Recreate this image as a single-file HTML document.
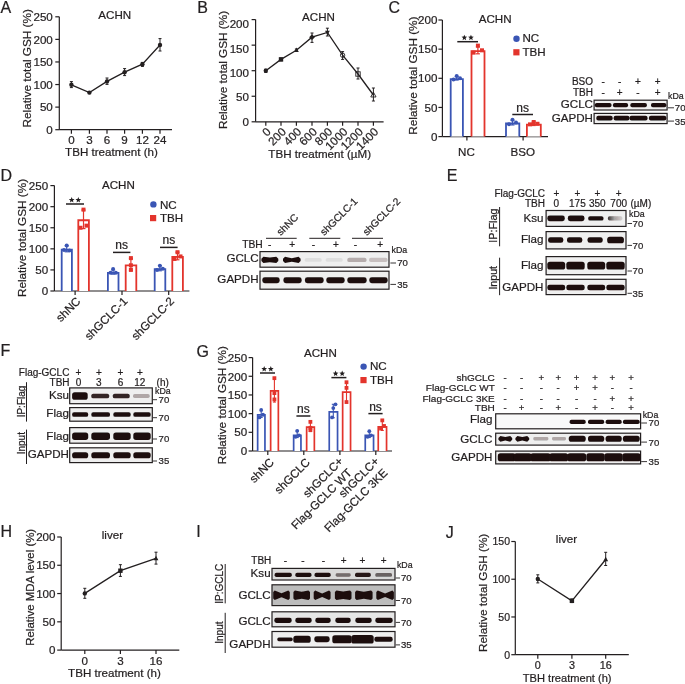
<!DOCTYPE html>
<html><head><meta charset="utf-8"><style>
html,body{margin:0;padding:0;background:#fff;}
svg{display:block;will-change:transform;filter:blur(0.3px);}
text{font-family:"Liberation Sans", sans-serif;stroke:#231f20;stroke-width:0.22px;}
</style></head><body>
<svg width="685" height="684" viewBox="0 0 685 684">
<defs><linearGradient id="fadeR" x1="0" x2="1" y1="0" y2="0"><stop offset="0" stop-color="#1c1111" stop-opacity="0.85"/><stop offset="0.45" stop-color="#1c1111" stop-opacity="0.35"/><stop offset="1" stop-color="#1c1111" stop-opacity="0.12"/></linearGradient><filter id="bl" x="-30%" y="-80%" width="160%" height="260%"><feGaussianBlur stdDeviation="0.55"/></filter></defs>
<rect width="685" height="684" fill="#fff"/>
<text x="0.60" y="12.70" font-size="16" text-anchor="start" fill="#231f20">A</text>
<text x="197.20" y="12.60" font-size="16" text-anchor="start" fill="#231f20">B</text>
<text x="388.60" y="12.60" font-size="16" text-anchor="start" fill="#231f20">C</text>
<text x="0.60" y="181.00" font-size="16" text-anchor="start" fill="#231f20">D</text>
<text x="446.80" y="181.00" font-size="16" text-anchor="start" fill="#231f20">E</text>
<text x="0.60" y="356.00" font-size="16" text-anchor="start" fill="#231f20">F</text>
<text x="196.60" y="356.50" font-size="16" text-anchor="start" fill="#231f20">G</text>
<text x="0.60" y="537.00" font-size="16" text-anchor="start" fill="#231f20">H</text>
<text x="196.20" y="537.00" font-size="16" text-anchor="start" fill="#231f20">I</text>
<text x="445.80" y="537.50" font-size="16" text-anchor="start" fill="#231f20">J</text>
<line x1="59.30" y1="16.80" x2="59.30" y2="129.70" stroke="#231f20" stroke-width="1.2" stroke-linecap="butt"/>
<line x1="55.30" y1="129.70" x2="59.30" y2="129.70" stroke="#231f20" stroke-width="1.2" stroke-linecap="butt"/>
<text x="52.80" y="133.88" font-size="11.6" text-anchor="end" fill="#231f20">0</text>
<line x1="55.30" y1="107.12" x2="59.30" y2="107.12" stroke="#231f20" stroke-width="1.2" stroke-linecap="butt"/>
<text x="52.80" y="111.30" font-size="11.6" text-anchor="end" fill="#231f20">50</text>
<line x1="55.30" y1="84.54" x2="59.30" y2="84.54" stroke="#231f20" stroke-width="1.2" stroke-linecap="butt"/>
<text x="52.80" y="88.72" font-size="11.6" text-anchor="end" fill="#231f20">100</text>
<line x1="55.30" y1="61.96" x2="59.30" y2="61.96" stroke="#231f20" stroke-width="1.2" stroke-linecap="butt"/>
<text x="52.80" y="66.14" font-size="11.6" text-anchor="end" fill="#231f20">150</text>
<line x1="55.30" y1="39.38" x2="59.30" y2="39.38" stroke="#231f20" stroke-width="1.2" stroke-linecap="butt"/>
<text x="52.80" y="43.56" font-size="11.6" text-anchor="end" fill="#231f20">200</text>
<line x1="55.30" y1="16.80" x2="59.30" y2="16.80" stroke="#231f20" stroke-width="1.2" stroke-linecap="butt"/>
<text x="52.80" y="20.98" font-size="11.6" text-anchor="end" fill="#231f20">250</text>
<line x1="59.30" y1="129.70" x2="172.00" y2="129.70" stroke="#231f20" stroke-width="1.2" stroke-linecap="butt"/>
<line x1="71.40" y1="129.70" x2="71.40" y2="133.70" stroke="#231f20" stroke-width="1.2" stroke-linecap="butt"/>
<line x1="89.40" y1="129.70" x2="89.40" y2="133.70" stroke="#231f20" stroke-width="1.2" stroke-linecap="butt"/>
<line x1="107.00" y1="129.70" x2="107.00" y2="133.70" stroke="#231f20" stroke-width="1.2" stroke-linecap="butt"/>
<line x1="124.60" y1="129.70" x2="124.60" y2="133.70" stroke="#231f20" stroke-width="1.2" stroke-linecap="butt"/>
<line x1="142.40" y1="129.70" x2="142.40" y2="133.70" stroke="#231f20" stroke-width="1.2" stroke-linecap="butt"/>
<line x1="160.00" y1="129.70" x2="160.00" y2="133.70" stroke="#231f20" stroke-width="1.2" stroke-linecap="butt"/>
<text x="71.40" y="144.40" font-size="11.6" text-anchor="middle" fill="#231f20">0</text>
<text x="89.40" y="144.40" font-size="11.6" text-anchor="middle" fill="#231f20">3</text>
<text x="107.00" y="144.40" font-size="11.6" text-anchor="middle" fill="#231f20">6</text>
<text x="124.60" y="144.40" font-size="11.6" text-anchor="middle" fill="#231f20">9</text>
<text x="142.40" y="144.40" font-size="11.6" text-anchor="middle" fill="#231f20">12</text>
<text x="160.00" y="144.40" font-size="11.6" text-anchor="middle" fill="#231f20">24</text>
<text x="111.50" y="156.00" font-size="11.6" text-anchor="middle" fill="#231f20">TBH treatment (h)</text>
<text x="30.63" y="68.30" font-size="11.75" text-anchor="middle" fill="#231f20" transform="rotate(-90 30.63 68.30)">Relative total GSH (%)</text>
<text x="114.80" y="19.40" font-size="11.6" text-anchor="middle" fill="#231f20">ACHN</text>
<polyline points="71.40,84.80 89.40,92.60 107.00,81.40 124.60,72.20 142.40,64.20 160.00,45.00" fill="none" stroke="#231f20" stroke-width="1.3" stroke-linejoin="miter"/>
<line x1="71.40" y1="81.60" x2="71.40" y2="87.60" stroke="#231f20" stroke-width="1.0" stroke-linecap="butt"/>
<line x1="69.90" y1="81.60" x2="72.90" y2="81.60" stroke="#231f20" stroke-width="1.0" stroke-linecap="butt"/>
<line x1="69.90" y1="87.60" x2="72.90" y2="87.60" stroke="#231f20" stroke-width="1.0" stroke-linecap="butt"/>
<circle cx="71.40" cy="84.80" r="2.2" fill="#231f20"/>
<line x1="89.40" y1="91.60" x2="89.40" y2="93.60" stroke="#231f20" stroke-width="1.0" stroke-linecap="butt"/>
<line x1="87.90" y1="91.60" x2="90.90" y2="91.60" stroke="#231f20" stroke-width="1.0" stroke-linecap="butt"/>
<line x1="87.90" y1="93.60" x2="90.90" y2="93.60" stroke="#231f20" stroke-width="1.0" stroke-linecap="butt"/>
<circle cx="89.40" cy="92.60" r="2.2" fill="#231f20"/>
<line x1="107.00" y1="78.00" x2="107.00" y2="84.40" stroke="#231f20" stroke-width="1.0" stroke-linecap="butt"/>
<line x1="105.50" y1="78.00" x2="108.50" y2="78.00" stroke="#231f20" stroke-width="1.0" stroke-linecap="butt"/>
<line x1="105.50" y1="84.40" x2="108.50" y2="84.40" stroke="#231f20" stroke-width="1.0" stroke-linecap="butt"/>
<circle cx="107.00" cy="81.40" r="2.2" fill="#231f20"/>
<line x1="124.60" y1="68.60" x2="124.60" y2="75.60" stroke="#231f20" stroke-width="1.0" stroke-linecap="butt"/>
<line x1="123.10" y1="68.60" x2="126.10" y2="68.60" stroke="#231f20" stroke-width="1.0" stroke-linecap="butt"/>
<line x1="123.10" y1="75.60" x2="126.10" y2="75.60" stroke="#231f20" stroke-width="1.0" stroke-linecap="butt"/>
<circle cx="124.60" cy="72.20" r="2.2" fill="#231f20"/>
<line x1="142.40" y1="62.40" x2="142.40" y2="66.40" stroke="#231f20" stroke-width="1.0" stroke-linecap="butt"/>
<line x1="140.90" y1="62.40" x2="143.90" y2="62.40" stroke="#231f20" stroke-width="1.0" stroke-linecap="butt"/>
<line x1="140.90" y1="66.40" x2="143.90" y2="66.40" stroke="#231f20" stroke-width="1.0" stroke-linecap="butt"/>
<circle cx="142.40" cy="64.20" r="2.2" fill="#231f20"/>
<line x1="160.00" y1="38.60" x2="160.00" y2="51.00" stroke="#231f20" stroke-width="1.0" stroke-linecap="butt"/>
<line x1="158.50" y1="38.60" x2="161.50" y2="38.60" stroke="#231f20" stroke-width="1.0" stroke-linecap="butt"/>
<line x1="158.50" y1="51.00" x2="161.50" y2="51.00" stroke="#231f20" stroke-width="1.0" stroke-linecap="butt"/>
<circle cx="160.00" cy="45.00" r="2.2" fill="#231f20"/>
<line x1="255.60" y1="19.60" x2="255.60" y2="121.80" stroke="#231f20" stroke-width="1.2" stroke-linecap="butt"/>
<line x1="251.60" y1="121.80" x2="255.60" y2="121.80" stroke="#231f20" stroke-width="1.2" stroke-linecap="butt"/>
<text x="249.00" y="126.48" font-size="11.6" text-anchor="end" fill="#231f20">0</text>
<line x1="251.60" y1="96.25" x2="255.60" y2="96.25" stroke="#231f20" stroke-width="1.2" stroke-linecap="butt"/>
<text x="249.00" y="101.18" font-size="11.6" text-anchor="end" fill="#231f20">50</text>
<line x1="251.60" y1="70.70" x2="255.60" y2="70.70" stroke="#231f20" stroke-width="1.2" stroke-linecap="butt"/>
<text x="249.00" y="76.88" font-size="11.6" text-anchor="end" fill="#231f20">100</text>
<line x1="251.60" y1="45.15" x2="255.60" y2="45.15" stroke="#231f20" stroke-width="1.2" stroke-linecap="butt"/>
<text x="249.00" y="52.98" font-size="11.6" text-anchor="end" fill="#231f20">150</text>
<line x1="251.60" y1="19.60" x2="255.60" y2="19.60" stroke="#231f20" stroke-width="1.2" stroke-linecap="butt"/>
<text x="249.00" y="27.68" font-size="11.6" text-anchor="end" fill="#231f20">200</text>
<line x1="255.60" y1="121.80" x2="383.60" y2="121.80" stroke="#231f20" stroke-width="1.2" stroke-linecap="butt"/>
<line x1="265.80" y1="121.80" x2="265.80" y2="125.80" stroke="#231f20" stroke-width="1.2" stroke-linecap="butt"/>
<line x1="281.00" y1="121.80" x2="281.00" y2="125.80" stroke="#231f20" stroke-width="1.2" stroke-linecap="butt"/>
<line x1="296.40" y1="121.80" x2="296.40" y2="125.80" stroke="#231f20" stroke-width="1.2" stroke-linecap="butt"/>
<line x1="312.00" y1="121.80" x2="312.00" y2="125.80" stroke="#231f20" stroke-width="1.2" stroke-linecap="butt"/>
<line x1="327.40" y1="121.80" x2="327.40" y2="125.80" stroke="#231f20" stroke-width="1.2" stroke-linecap="butt"/>
<line x1="342.60" y1="121.80" x2="342.60" y2="125.80" stroke="#231f20" stroke-width="1.2" stroke-linecap="butt"/>
<line x1="358.00" y1="121.80" x2="358.00" y2="125.80" stroke="#231f20" stroke-width="1.2" stroke-linecap="butt"/>
<line x1="373.40" y1="121.80" x2="373.40" y2="125.80" stroke="#231f20" stroke-width="1.2" stroke-linecap="butt"/>
<text x="271.50" y="132.50" font-size="11.6" text-anchor="end" fill="#231f20" transform="rotate(-45 271.50 132.50)">0</text>
<text x="286.70" y="132.50" font-size="11.6" text-anchor="end" fill="#231f20" transform="rotate(-45 286.70 132.50)">200</text>
<text x="302.10" y="132.50" font-size="11.6" text-anchor="end" fill="#231f20" transform="rotate(-45 302.10 132.50)">400</text>
<text x="317.70" y="132.50" font-size="11.6" text-anchor="end" fill="#231f20" transform="rotate(-45 317.70 132.50)">600</text>
<text x="333.10" y="132.50" font-size="11.6" text-anchor="end" fill="#231f20" transform="rotate(-45 333.10 132.50)">800</text>
<text x="348.30" y="132.50" font-size="11.6" text-anchor="end" fill="#231f20" transform="rotate(-45 348.30 132.50)">1000</text>
<text x="363.70" y="132.50" font-size="11.6" text-anchor="end" fill="#231f20" transform="rotate(-45 363.70 132.50)">1200</text>
<text x="379.10" y="132.50" font-size="11.6" text-anchor="end" fill="#231f20" transform="rotate(-45 379.10 132.50)">1400</text>
<text x="319.70" y="158.00" font-size="11.6" text-anchor="middle" fill="#231f20">TBH treatment (µM)</text>
<text x="227.23" y="70.00" font-size="11.75" text-anchor="middle" fill="#231f20" transform="rotate(-90 227.23 70.00)">Relative total GSH (%)</text>
<text x="318.50" y="21.00" font-size="11.6" text-anchor="middle" fill="#231f20">ACHN</text>
<polyline points="265.80,70.80 281.00,59.40 296.40,50.20 312.00,37.20 327.40,32.40 342.60,55.20 358.00,74.00 373.40,95.00" fill="none" stroke="#231f20" stroke-width="1.3" stroke-linejoin="miter"/>
<line x1="265.80" y1="69.20" x2="265.80" y2="72.40" stroke="#231f20" stroke-width="1.0" stroke-linecap="butt"/>
<line x1="264.30" y1="69.20" x2="267.30" y2="69.20" stroke="#231f20" stroke-width="1.0" stroke-linecap="butt"/>
<line x1="264.30" y1="72.40" x2="267.30" y2="72.40" stroke="#231f20" stroke-width="1.0" stroke-linecap="butt"/>
<circle cx="265.80" cy="70.80" r="2.2" fill="#231f20"/>
<line x1="281.00" y1="58.00" x2="281.00" y2="60.80" stroke="#231f20" stroke-width="1.0" stroke-linecap="butt"/>
<line x1="279.50" y1="58.00" x2="282.50" y2="58.00" stroke="#231f20" stroke-width="1.0" stroke-linecap="butt"/>
<line x1="279.50" y1="60.80" x2="282.50" y2="60.80" stroke="#231f20" stroke-width="1.0" stroke-linecap="butt"/>
<rect x="278.80" y="57.20" width="4.40" height="4.40" fill="#231f20"/>
<line x1="296.40" y1="49.00" x2="296.40" y2="51.40" stroke="#231f20" stroke-width="1.0" stroke-linecap="butt"/>
<line x1="294.90" y1="49.00" x2="297.90" y2="49.00" stroke="#231f20" stroke-width="1.0" stroke-linecap="butt"/>
<line x1="294.90" y1="51.40" x2="297.90" y2="51.40" stroke="#231f20" stroke-width="1.0" stroke-linecap="butt"/>
<polygon points="296.40,47.56 298.82,51.96 293.98,51.96" fill="#231f20"/>
<line x1="312.00" y1="33.00" x2="312.00" y2="42.40" stroke="#231f20" stroke-width="1.0" stroke-linecap="butt"/>
<line x1="310.50" y1="33.00" x2="313.50" y2="33.00" stroke="#231f20" stroke-width="1.0" stroke-linecap="butt"/>
<line x1="310.50" y1="42.40" x2="313.50" y2="42.40" stroke="#231f20" stroke-width="1.0" stroke-linecap="butt"/>
<polygon points="312.00,34.34 314.86,37.20 312.00,40.06 309.14,37.20" fill="#231f20"/>
<line x1="327.40" y1="28.20" x2="327.40" y2="36.00" stroke="#231f20" stroke-width="1.0" stroke-linecap="butt"/>
<line x1="325.90" y1="28.20" x2="328.90" y2="28.20" stroke="#231f20" stroke-width="1.0" stroke-linecap="butt"/>
<line x1="325.90" y1="36.00" x2="328.90" y2="36.00" stroke="#231f20" stroke-width="1.0" stroke-linecap="butt"/>
<polygon points="327.40,35.04 329.82,30.64 324.98,30.64" fill="#231f20"/>
<line x1="342.60" y1="51.60" x2="342.60" y2="59.40" stroke="#231f20" stroke-width="1.0" stroke-linecap="butt"/>
<line x1="341.10" y1="51.60" x2="344.10" y2="51.60" stroke="#231f20" stroke-width="1.0" stroke-linecap="butt"/>
<line x1="341.10" y1="59.40" x2="344.10" y2="59.40" stroke="#231f20" stroke-width="1.0" stroke-linecap="butt"/>
<circle cx="342.60" cy="55.20" r="2.2" fill="none" stroke="#231f20" stroke-width="0.9"/>
<line x1="358.00" y1="68.00" x2="358.00" y2="79.00" stroke="#231f20" stroke-width="1.0" stroke-linecap="butt"/>
<line x1="356.50" y1="68.00" x2="359.50" y2="68.00" stroke="#231f20" stroke-width="1.0" stroke-linecap="butt"/>
<line x1="356.50" y1="79.00" x2="359.50" y2="79.00" stroke="#231f20" stroke-width="1.0" stroke-linecap="butt"/>
<rect x="355.80" y="71.80" width="4.40" height="4.40" fill="none" stroke="#231f20" stroke-width="0.9"/>
<line x1="373.40" y1="88.00" x2="373.40" y2="101.00" stroke="#231f20" stroke-width="1.0" stroke-linecap="butt"/>
<line x1="371.90" y1="88.00" x2="374.90" y2="88.00" stroke="#231f20" stroke-width="1.0" stroke-linecap="butt"/>
<line x1="371.90" y1="101.00" x2="374.90" y2="101.00" stroke="#231f20" stroke-width="1.0" stroke-linecap="butt"/>
<polygon points="373.40,92.14 376.04,96.98 370.76,96.98" fill="none" stroke="#231f20" stroke-width="0.9"/>
<line x1="442.40" y1="20.00" x2="442.40" y2="136.60" stroke="#231f20" stroke-width="1.2" stroke-linecap="butt"/>
<line x1="438.40" y1="136.60" x2="442.40" y2="136.60" stroke="#231f20" stroke-width="1.2" stroke-linecap="butt"/>
<text x="437.40" y="140.78" font-size="11.6" text-anchor="end" fill="#231f20">0</text>
<line x1="438.40" y1="107.45" x2="442.40" y2="107.45" stroke="#231f20" stroke-width="1.2" stroke-linecap="butt"/>
<text x="437.40" y="111.63" font-size="11.6" text-anchor="end" fill="#231f20">50</text>
<line x1="438.40" y1="78.30" x2="442.40" y2="78.30" stroke="#231f20" stroke-width="1.2" stroke-linecap="butt"/>
<text x="437.40" y="82.48" font-size="11.6" text-anchor="end" fill="#231f20">100</text>
<line x1="438.40" y1="49.15" x2="442.40" y2="49.15" stroke="#231f20" stroke-width="1.2" stroke-linecap="butt"/>
<text x="437.40" y="53.33" font-size="11.6" text-anchor="end" fill="#231f20">150</text>
<line x1="438.40" y1="20.00" x2="442.40" y2="20.00" stroke="#231f20" stroke-width="1.2" stroke-linecap="butt"/>
<text x="437.40" y="24.18" font-size="11.6" text-anchor="end" fill="#231f20">200</text>
<line x1="442.40" y1="136.60" x2="548.00" y2="136.60" stroke="#231f20" stroke-width="1.2" stroke-linecap="butt"/>
<line x1="466.90" y1="136.60" x2="466.90" y2="140.60" stroke="#231f20" stroke-width="1.2" stroke-linecap="butt"/>
<line x1="523.10" y1="136.60" x2="523.10" y2="140.60" stroke="#231f20" stroke-width="1.2" stroke-linecap="butt"/>
<text x="466.40" y="156.00" font-size="11.6" text-anchor="middle" fill="#231f20">NC</text>
<text x="522.70" y="155.60" font-size="11.6" text-anchor="middle" fill="#231f20">BSO</text>
<text x="416.83" y="75.60" font-size="11.75" text-anchor="middle" fill="#231f20" transform="rotate(-90 416.83 75.60)">Relative total GSH (%)</text>
<text x="495.20" y="22.60" font-size="11.6" text-anchor="middle" fill="#231f20">ACHN</text>
<path d="M450.70,136.60 V79.20 H462.90 V136.60" fill="white" stroke="#3a55b4" stroke-width="1.8"/>
<path d="M471.50,136.60 V51.22 H484.50 V136.60" fill="white" stroke="#e3342c" stroke-width="1.8"/>
<path d="M506.00,136.60 V123.51 H519.30 V136.60" fill="white" stroke="#3a55b4" stroke-width="1.8"/>
<path d="M526.90,136.60 V124.67 H540.80 V136.60" fill="white" stroke="#e3342c" stroke-width="1.8"/>
<line x1="456.70" y1="76.55" x2="456.70" y2="80.05" stroke="#3a55b4" stroke-width="1.2" stroke-linecap="butt"/>
<line x1="454.70" y1="76.55" x2="458.70" y2="76.55" stroke="#3a55b4" stroke-width="1.2" stroke-linecap="butt"/>
<line x1="454.70" y1="80.05" x2="458.70" y2="80.05" stroke="#3a55b4" stroke-width="1.2" stroke-linecap="butt"/>
<circle cx="453.50" cy="79.47" r="2.0" fill="#3a55b4"/>
<circle cx="456.70" cy="75.97" r="2.0" fill="#3a55b4"/>
<circle cx="460.00" cy="78.30" r="2.0" fill="#3a55b4"/>
<line x1="477.90" y1="46.82" x2="477.90" y2="53.81" stroke="#e3342c" stroke-width="1.2" stroke-linecap="butt"/>
<line x1="475.90" y1="46.82" x2="479.90" y2="46.82" stroke="#e3342c" stroke-width="1.2" stroke-linecap="butt"/>
<line x1="475.90" y1="53.81" x2="479.90" y2="53.81" stroke="#e3342c" stroke-width="1.2" stroke-linecap="butt"/>
<rect x="471.60" y="50.65" width="4.00" height="4.00" fill="#e3342c"/>
<rect x="475.90" y="43.65" width="4.00" height="4.00" fill="#e3342c"/>
<rect x="480.00" y="48.32" width="4.00" height="4.00" fill="#e3342c"/>
<line x1="512.50" y1="120.28" x2="512.50" y2="124.94" stroke="#3a55b4" stroke-width="1.2" stroke-linecap="butt"/>
<line x1="510.50" y1="120.28" x2="514.50" y2="120.28" stroke="#3a55b4" stroke-width="1.2" stroke-linecap="butt"/>
<line x1="510.50" y1="124.94" x2="514.50" y2="124.94" stroke="#3a55b4" stroke-width="1.2" stroke-linecap="butt"/>
<circle cx="509.00" cy="124.36" r="2.0" fill="#3a55b4"/>
<circle cx="512.50" cy="119.69" r="2.0" fill="#3a55b4"/>
<circle cx="516.00" cy="122.61" r="2.0" fill="#3a55b4"/>
<line x1="533.70" y1="122.02" x2="533.70" y2="125.52" stroke="#e3342c" stroke-width="1.2" stroke-linecap="butt"/>
<line x1="531.70" y1="122.02" x2="535.70" y2="122.02" stroke="#e3342c" stroke-width="1.2" stroke-linecap="butt"/>
<line x1="531.70" y1="125.52" x2="535.70" y2="125.52" stroke="#e3342c" stroke-width="1.2" stroke-linecap="butt"/>
<rect x="528.00" y="122.36" width="4.00" height="4.00" fill="#e3342c"/>
<rect x="531.70" y="120.02" width="4.00" height="4.00" fill="#e3342c"/>
<rect x="535.50" y="121.77" width="4.00" height="4.00" fill="#e3342c"/>
<line x1="457.30" y1="41.70" x2="478.00" y2="41.70" stroke="#231f20" stroke-width="1.5" stroke-linecap="butt"/>
<polygon points="464.35,34.70 465.14,36.61 467.20,36.77 465.63,38.12 466.11,40.13 464.35,39.05 462.59,40.13 463.07,38.12 461.50,36.77 463.56,36.61" fill="#231f20"/>
<polygon points="470.95,34.70 471.74,36.61 473.80,36.77 472.23,38.12 472.71,40.13 470.95,39.05 469.19,40.13 469.67,38.12 468.10,36.77 470.16,36.61" fill="#231f20"/>
<line x1="512.30" y1="114.50" x2="533.00" y2="114.50" stroke="#231f20" stroke-width="1.5" stroke-linecap="butt"/>
<text x="522.65" y="111.50" font-size="12" text-anchor="middle" fill="#231f20">ns</text>
<circle cx="516.50" cy="38.80" r="3.2" fill="#3a55b4"/>
<rect x="513.30" y="49.20" width="6.20" height="6.20" fill="#e3342c"/>
<text x="522.50" y="41.80" font-size="11.6" text-anchor="start" fill="#231f20">NC</text>
<text x="522.50" y="55.80" font-size="11.6" text-anchor="start" fill="#231f20">TBH</text>
<text x="593.00" y="85.00" font-size="10" text-anchor="end" fill="#231f20">BSO</text>
<text x="593.00" y="95.70" font-size="10" text-anchor="end" fill="#231f20">TBH</text>
<text x="593.00" y="108.00" font-size="11.6" text-anchor="end" fill="#231f20">GCLC</text>
<text x="593.00" y="121.80" font-size="11.6" text-anchor="end" fill="#231f20">GAPDH</text>
<text x="603.20" y="85.00" font-size="10" text-anchor="middle" fill="#231f20">-</text>
<text x="603.20" y="95.70" font-size="10" text-anchor="middle" fill="#231f20">-</text>
<text x="619.70" y="85.00" font-size="10" text-anchor="middle" fill="#231f20">-</text>
<text x="619.70" y="95.70" font-size="10" text-anchor="middle" fill="#231f20">+</text>
<text x="637.90" y="85.00" font-size="10" text-anchor="middle" fill="#231f20">+</text>
<text x="637.90" y="95.70" font-size="10" text-anchor="middle" fill="#231f20">-</text>
<text x="657.60" y="85.00" font-size="10" text-anchor="middle" fill="#231f20">+</text>
<text x="657.60" y="95.70" font-size="10" text-anchor="middle" fill="#231f20">+</text>
<rect x="594.10" y="100.20" width="73.00" height="9.80" fill="#efefef" stroke="#231f20" stroke-width="1.2"/>
<rect x="594.10" y="113.40" width="73.00" height="10.20" fill="#efefef" stroke="#231f20" stroke-width="1.2"/>
<rect x="594.80" y="103.05" width="16.70" height="4.30" rx="1.81" fill="#1c1111" fill-opacity="1.0" filter="url(#bl)"/>
<rect x="612.90" y="103.05" width="15.20" height="4.30" rx="1.81" fill="#1c1111" fill-opacity="1.0" filter="url(#bl)"/>
<rect x="630.30" y="103.05" width="16.60" height="4.30" rx="1.81" fill="#1c1111" fill-opacity="1.0" filter="url(#bl)"/>
<rect x="651.00" y="103.05" width="15.30" height="4.30" rx="1.81" fill="#1c1111" fill-opacity="1.0" filter="url(#bl)"/>
<rect x="596.30" y="115.80" width="16.40" height="4.80" rx="2.02" fill="#1c1111" fill-opacity="1.0" filter="url(#bl)"/>
<rect x="613.60" y="115.80" width="15.90" height="4.80" rx="2.02" fill="#1c1111" fill-opacity="1.0" filter="url(#bl)"/>
<rect x="629.50" y="115.80" width="18.10" height="4.80" rx="2.02" fill="#1c1111" fill-opacity="1.0" filter="url(#bl)"/>
<rect x="648.90" y="115.80" width="17.40" height="4.80" rx="2.02" fill="#1c1111" fill-opacity="1.0" filter="url(#bl)"/>
<text x="668.00" y="99.00" font-size="8.8" text-anchor="start" fill="#231f20">kDa</text>
<line x1="668.00" y1="107.80" x2="674.00" y2="107.80" stroke="#231f20" stroke-width="0.9" stroke-linecap="butt"/>
<text x="674.80" y="111.30" font-size="9.6" text-anchor="start" fill="#231f20">70</text>
<line x1="668.00" y1="121.10" x2="674.00" y2="121.10" stroke="#231f20" stroke-width="0.9" stroke-linecap="butt"/>
<text x="674.80" y="124.60" font-size="9.6" text-anchor="start" fill="#231f20">35</text>
<line x1="54.40" y1="185.60" x2="54.40" y2="291.00" stroke="#231f20" stroke-width="1.2" stroke-linecap="butt"/>
<line x1="50.40" y1="291.00" x2="54.40" y2="291.00" stroke="#231f20" stroke-width="1.2" stroke-linecap="butt"/>
<text x="48.20" y="295.18" font-size="11.6" text-anchor="end" fill="#231f20">0</text>
<line x1="50.40" y1="269.92" x2="54.40" y2="269.92" stroke="#231f20" stroke-width="1.2" stroke-linecap="butt"/>
<text x="48.20" y="274.10" font-size="11.6" text-anchor="end" fill="#231f20">50</text>
<line x1="50.40" y1="248.84" x2="54.40" y2="248.84" stroke="#231f20" stroke-width="1.2" stroke-linecap="butt"/>
<text x="48.20" y="253.02" font-size="11.6" text-anchor="end" fill="#231f20">100</text>
<line x1="50.40" y1="227.76" x2="54.40" y2="227.76" stroke="#231f20" stroke-width="1.2" stroke-linecap="butt"/>
<text x="48.20" y="231.94" font-size="11.6" text-anchor="end" fill="#231f20">150</text>
<line x1="50.40" y1="206.68" x2="54.40" y2="206.68" stroke="#231f20" stroke-width="1.2" stroke-linecap="butt"/>
<text x="48.20" y="210.86" font-size="11.6" text-anchor="end" fill="#231f20">200</text>
<line x1="50.40" y1="185.60" x2="54.40" y2="185.60" stroke="#231f20" stroke-width="1.2" stroke-linecap="butt"/>
<text x="48.20" y="189.78" font-size="11.6" text-anchor="end" fill="#231f20">250</text>
<line x1="54.40" y1="291.00" x2="189.40" y2="291.00" stroke="#231f20" stroke-width="1.2" stroke-linecap="butt"/>
<line x1="75.10" y1="291.00" x2="75.10" y2="295.00" stroke="#231f20" stroke-width="1.2" stroke-linecap="butt"/>
<line x1="122.00" y1="291.00" x2="122.00" y2="295.00" stroke="#231f20" stroke-width="1.2" stroke-linecap="butt"/>
<line x1="168.70" y1="291.00" x2="168.70" y2="295.00" stroke="#231f20" stroke-width="1.2" stroke-linecap="butt"/>
<text x="81.30" y="302.00" font-size="11.6" text-anchor="end" fill="#231f20" transform="rotate(-45 81.30 302.00)">shNC</text>
<text x="128.20" y="302.00" font-size="11.6" text-anchor="end" fill="#231f20" transform="rotate(-45 128.20 302.00)">shGCLC-1</text>
<text x="174.90" y="302.00" font-size="11.6" text-anchor="end" fill="#231f20" transform="rotate(-45 174.90 302.00)">shGCLC-2</text>
<text x="26.23" y="238.00" font-size="11.75" text-anchor="middle" fill="#231f20" transform="rotate(-90 26.23 238.00)">Relative total GSH (%)</text>
<text x="118.40" y="189.00" font-size="11.6" text-anchor="middle" fill="#231f20">ACHN</text>
<path d="M61.70,291.00 V249.74 H71.90 V291.00" fill="white" stroke="#3a55b4" stroke-width="1.8"/>
<path d="M78.30,291.00 V220.23 H88.90 V291.00" fill="white" stroke="#e3342c" stroke-width="1.8"/>
<path d="M107.90,291.00 V272.93 H118.50 V291.00" fill="white" stroke="#3a55b4" stroke-width="1.8"/>
<path d="M125.70,291.00 V265.34 H136.30 V291.00" fill="white" stroke="#e3342c" stroke-width="1.8"/>
<path d="M154.70,291.00 V269.13 H165.30 V291.00" fill="white" stroke="#3a55b4" stroke-width="1.8"/>
<path d="M172.30,291.00 V256.91 H182.90 V291.00" fill="white" stroke="#e3342c" stroke-width="1.8"/>
<line x1="66.70" y1="245.89" x2="66.70" y2="251.79" stroke="#3a55b4" stroke-width="1.2" stroke-linecap="butt"/>
<line x1="64.70" y1="245.89" x2="68.70" y2="245.89" stroke="#3a55b4" stroke-width="1.2" stroke-linecap="butt"/>
<line x1="64.70" y1="251.79" x2="68.70" y2="251.79" stroke="#3a55b4" stroke-width="1.2" stroke-linecap="butt"/>
<circle cx="64.00" cy="250.10" r="2.0" fill="#3a55b4"/>
<circle cx="66.70" cy="245.47" r="2.0" fill="#3a55b4"/>
<circle cx="69.50" cy="250.53" r="2.0" fill="#3a55b4"/>
<line x1="83.50" y1="210.05" x2="83.50" y2="228.60" stroke="#e3342c" stroke-width="1.2" stroke-linecap="butt"/>
<line x1="81.50" y1="210.05" x2="85.50" y2="210.05" stroke="#e3342c" stroke-width="1.2" stroke-linecap="butt"/>
<line x1="81.50" y1="228.60" x2="85.50" y2="228.60" stroke="#e3342c" stroke-width="1.2" stroke-linecap="butt"/>
<rect x="78.50" y="225.76" width="4.00" height="4.00" fill="#e3342c"/>
<rect x="81.50" y="207.63" width="4.00" height="4.00" fill="#e3342c"/>
<rect x="84.50" y="223.65" width="4.00" height="4.00" fill="#e3342c"/>
<line x1="113.10" y1="269.92" x2="113.10" y2="274.14" stroke="#3a55b4" stroke-width="1.2" stroke-linecap="butt"/>
<line x1="111.10" y1="269.92" x2="115.10" y2="269.92" stroke="#3a55b4" stroke-width="1.2" stroke-linecap="butt"/>
<line x1="111.10" y1="274.14" x2="115.10" y2="274.14" stroke="#3a55b4" stroke-width="1.2" stroke-linecap="butt"/>
<circle cx="110.50" cy="272.87" r="2.0" fill="#3a55b4"/>
<circle cx="113.10" cy="269.08" r="2.0" fill="#3a55b4"/>
<circle cx="115.80" cy="272.87" r="2.0" fill="#3a55b4"/>
<line x1="130.90" y1="258.54" x2="130.90" y2="270.34" stroke="#e3342c" stroke-width="1.2" stroke-linecap="butt"/>
<line x1="128.90" y1="258.54" x2="132.90" y2="258.54" stroke="#e3342c" stroke-width="1.2" stroke-linecap="butt"/>
<line x1="128.90" y1="270.34" x2="132.90" y2="270.34" stroke="#e3342c" stroke-width="1.2" stroke-linecap="butt"/>
<rect x="128.90" y="256.12" width="4.00" height="4.00" fill="#e3342c"/>
<rect x="128.90" y="263.28" width="4.00" height="4.00" fill="#e3342c"/>
<rect x="128.90" y="267.92" width="4.00" height="4.00" fill="#e3342c"/>
<line x1="159.90" y1="265.70" x2="159.90" y2="270.76" stroke="#3a55b4" stroke-width="1.2" stroke-linecap="butt"/>
<line x1="157.90" y1="265.70" x2="161.90" y2="265.70" stroke="#3a55b4" stroke-width="1.2" stroke-linecap="butt"/>
<line x1="157.90" y1="270.76" x2="161.90" y2="270.76" stroke="#3a55b4" stroke-width="1.2" stroke-linecap="butt"/>
<circle cx="157.00" cy="269.92" r="2.0" fill="#3a55b4"/>
<circle cx="159.90" cy="265.70" r="2.0" fill="#3a55b4"/>
<circle cx="162.80" cy="268.66" r="2.0" fill="#3a55b4"/>
<line x1="177.50" y1="252.21" x2="177.50" y2="259.80" stroke="#e3342c" stroke-width="1.2" stroke-linecap="butt"/>
<line x1="175.50" y1="252.21" x2="179.50" y2="252.21" stroke="#e3342c" stroke-width="1.2" stroke-linecap="butt"/>
<line x1="175.50" y1="259.80" x2="179.50" y2="259.80" stroke="#e3342c" stroke-width="1.2" stroke-linecap="butt"/>
<rect x="172.50" y="256.96" width="4.00" height="4.00" fill="#e3342c"/>
<rect x="175.50" y="250.21" width="4.00" height="4.00" fill="#e3342c"/>
<rect x="178.50" y="254.43" width="4.00" height="4.00" fill="#e3342c"/>
<line x1="66.00" y1="204.00" x2="84.00" y2="204.00" stroke="#231f20" stroke-width="1.5" stroke-linecap="butt"/>
<polygon points="71.70,197.00 72.49,198.91 74.55,199.07 72.98,200.42 73.46,202.43 71.70,201.35 69.94,202.43 70.42,200.42 68.85,199.07 70.91,198.91" fill="#231f20"/>
<polygon points="78.30,197.00 79.09,198.91 81.15,199.07 79.58,200.42 80.06,202.43 78.30,201.35 76.54,202.43 77.02,200.42 75.45,199.07 77.51,198.91" fill="#231f20"/>
<line x1="113.00" y1="252.40" x2="130.40" y2="252.40" stroke="#231f20" stroke-width="1.5" stroke-linecap="butt"/>
<text x="121.70" y="249.40" font-size="12" text-anchor="middle" fill="#231f20">ns</text>
<line x1="160.00" y1="247.40" x2="177.60" y2="247.40" stroke="#231f20" stroke-width="1.5" stroke-linecap="butt"/>
<text x="168.80" y="244.40" font-size="12" text-anchor="middle" fill="#231f20">ns</text>
<circle cx="153.40" cy="204.40" r="3.2" fill="#3a55b4"/>
<rect x="150.00" y="215.00" width="6.20" height="6.20" fill="#e3342c"/>
<text x="160.00" y="208.80" font-size="11.6" text-anchor="start" fill="#231f20">NC</text>
<text x="160.00" y="221.60" font-size="11.6" text-anchor="start" fill="#231f20">TBH</text>
<line x1="266.00" y1="238.30" x2="296.70" y2="238.30" stroke="#231f20" stroke-width="1.0" stroke-linecap="butt"/>
<text x="280.85" y="236.00" font-size="10.2" text-anchor="start" fill="#231f20" transform="rotate(-45 280.85 236.00)">shNC</text>
<line x1="309.30" y1="238.30" x2="340.30" y2="238.30" stroke="#231f20" stroke-width="1.0" stroke-linecap="butt"/>
<text x="324.30" y="236.00" font-size="10.2" text-anchor="start" fill="#231f20" transform="rotate(-45 324.30 236.00)">shGCLC-1</text>
<line x1="352.00" y1="238.30" x2="383.00" y2="238.30" stroke="#231f20" stroke-width="1.0" stroke-linecap="butt"/>
<text x="367.00" y="236.00" font-size="10.2" text-anchor="start" fill="#231f20" transform="rotate(-45 367.00 236.00)">shGCLC-2</text>
<text x="262.80" y="247.80" font-size="10.3" text-anchor="end" fill="#231f20">TBH</text>
<text x="269.60" y="247.80" font-size="10" text-anchor="middle" fill="#231f20">-</text>
<text x="292.20" y="247.80" font-size="10" text-anchor="middle" fill="#231f20">+</text>
<text x="313.50" y="247.80" font-size="10" text-anchor="middle" fill="#231f20">-</text>
<text x="336.00" y="247.80" font-size="10" text-anchor="middle" fill="#231f20">+</text>
<text x="355.50" y="247.80" font-size="10" text-anchor="middle" fill="#231f20">-</text>
<text x="380.20" y="247.80" font-size="10" text-anchor="middle" fill="#231f20">+</text>
<text x="258.60" y="262.20" font-size="11.6" text-anchor="end" fill="#231f20">GCLC</text>
<text x="258.60" y="283.40" font-size="11.6" text-anchor="end" fill="#231f20">GAPDH</text>
<rect x="260.00" y="251.60" width="129.00" height="15.60" fill="#efefef" stroke="#231f20" stroke-width="1.2"/>
<rect x="260.00" y="271.20" width="129.00" height="18.00" fill="#efefef" stroke="#231f20" stroke-width="1.2"/>
<polygon points="261.40,258.75 263.40,256.75 269.85,257.55 276.30,256.75 278.30,258.75 278.30,261.05 276.30,263.05 269.85,262.25 263.40,263.05 261.40,261.05" fill="#1c1111" fill-opacity="1.0" filter="url(#bl)"/>
<polygon points="283.00,258.75 285.00,256.75 291.80,258.15 298.60,256.75 300.60,258.75 300.60,261.05 298.60,263.05 291.80,261.65 285.00,263.05 283.00,261.05" fill="#1c1111" fill-opacity="1.0" filter="url(#bl)"/>
<rect x="304.70" y="257.95" width="17.00" height="3.90" rx="1.64" fill="#1c1111" fill-opacity="0.07" filter="url(#bl)"/>
<rect x="325.70" y="257.95" width="17.00" height="3.90" rx="1.64" fill="#1c1111" fill-opacity="0.07" filter="url(#bl)"/>
<rect x="347.30" y="257.70" width="19.20" height="4.40" rx="1.85" fill="#1c1111" fill-opacity="0.28" filter="url(#bl)"/>
<rect x="369.10" y="257.85" width="18.40" height="4.10" rx="1.72" fill="#1c1111" fill-opacity="0.2" filter="url(#bl)"/>
<rect x="262.30" y="277.25" width="17.40" height="5.90" rx="2.48" fill="#1c1111" fill-opacity="1.0" filter="url(#bl)"/>
<rect x="283.40" y="277.25" width="18.30" height="5.90" rx="2.48" fill="#1c1111" fill-opacity="1.0" filter="url(#bl)"/>
<rect x="304.90" y="277.25" width="18.80" height="5.90" rx="2.48" fill="#1c1111" fill-opacity="1.0" filter="url(#bl)"/>
<rect x="326.30" y="277.25" width="18.40" height="5.90" rx="2.48" fill="#1c1111" fill-opacity="1.0" filter="url(#bl)"/>
<rect x="347.30" y="277.25" width="19.40" height="5.90" rx="2.48" fill="#1c1111" fill-opacity="1.0" filter="url(#bl)"/>
<rect x="369.30" y="277.25" width="18.40" height="5.90" rx="2.48" fill="#1c1111" fill-opacity="1.0" filter="url(#bl)"/>
<text x="391.60" y="253.00" font-size="8.8" text-anchor="start" fill="#231f20">kDa</text>
<line x1="390.40" y1="263.00" x2="396.00" y2="263.00" stroke="#231f20" stroke-width="0.9" stroke-linecap="butt"/>
<text x="397.20" y="266.40" font-size="9.6" text-anchor="start" fill="#231f20">70</text>
<line x1="390.40" y1="284.40" x2="396.00" y2="284.40" stroke="#231f20" stroke-width="0.9" stroke-linecap="butt"/>
<text x="397.20" y="287.80" font-size="9.6" text-anchor="start" fill="#231f20">35</text>
<text x="545.00" y="197.00" font-size="10" text-anchor="end" fill="#231f20">Flag-GCLC</text>
<text x="545.00" y="207.00" font-size="10" text-anchor="end" fill="#231f20">TBH</text>
<text x="556.30" y="196.50" font-size="10" text-anchor="middle" fill="#231f20">+</text>
<text x="556.30" y="207.00" font-size="10" text-anchor="middle" fill="#231f20">0</text>
<text x="577.40" y="196.50" font-size="10" text-anchor="middle" fill="#231f20">+</text>
<text x="577.40" y="207.00" font-size="10" text-anchor="middle" fill="#231f20">175</text>
<text x="597.30" y="196.50" font-size="10" text-anchor="middle" fill="#231f20">+</text>
<text x="597.30" y="207.00" font-size="10" text-anchor="middle" fill="#231f20">350</text>
<text x="618.70" y="196.50" font-size="10" text-anchor="middle" fill="#231f20">+</text>
<text x="618.70" y="207.00" font-size="10" text-anchor="middle" fill="#231f20">700</text>
<text x="630.50" y="207.00" font-size="10" text-anchor="start" fill="#231f20">(µM)</text>
<rect x="546.10" y="210.50" width="79.90" height="15.90" fill="#efefef" stroke="#231f20" stroke-width="1.2"/>
<rect x="546.10" y="231.60" width="79.90" height="17.30" fill="#efefef" stroke="#231f20" stroke-width="1.2"/>
<rect x="546.10" y="256.60" width="79.90" height="18.10" fill="#efefef" stroke="#231f20" stroke-width="1.2"/>
<rect x="546.10" y="279.30" width="79.90" height="15.30" fill="#efefef" stroke="#231f20" stroke-width="1.2"/>
<text x="543.50" y="221.90" font-size="11.6" text-anchor="end" fill="#231f20">Ksu</text>
<text x="543.50" y="242.60" font-size="11.6" text-anchor="end" fill="#231f20">Flag</text>
<text x="543.50" y="268.60" font-size="11.6" text-anchor="end" fill="#231f20">Flag</text>
<text x="543.50" y="290.60" font-size="11.6" text-anchor="end" fill="#231f20">GAPDH</text>
<rect x="547.30" y="215.55" width="17.50" height="5.70" rx="2.39" fill="#1c1111" fill-opacity="1" filter="url(#bl)"/>
<rect x="567.80" y="215.55" width="16.70" height="5.70" rx="2.39" fill="#1c1111" fill-opacity="1" filter="url(#bl)"/>
<rect x="588.20" y="216.20" width="15.30" height="4.40" rx="1.85" fill="#1c1111" fill-opacity="1" filter="url(#bl)"/>
<rect x="607.90" y="216.35" width="14.60" height="4.10" rx="1.72" fill="url(#fadeR)" fill-opacity="1" filter="url(#bl)"/>
<rect x="548.10" y="237.30" width="15.20" height="5.40" rx="2.27" fill="#1c1111" fill-opacity="1.0" filter="url(#bl)"/>
<rect x="567.00" y="237.30" width="15.30" height="5.40" rx="2.27" fill="#1c1111" fill-opacity="1.0" filter="url(#bl)"/>
<rect x="587.50" y="237.30" width="15.20" height="5.40" rx="2.27" fill="#1c1111" fill-opacity="1.0" filter="url(#bl)"/>
<rect x="607.20" y="236.65" width="16.70" height="6.70" rx="2.60" fill="#1c1111" fill-opacity="1.0" filter="url(#bl)"/>
<rect x="547.30" y="261.65" width="17.90" height="7.90" rx="2.60" fill="#1c1111" fill-opacity="1.0" filter="url(#bl)"/>
<rect x="547.30" y="284.75" width="17.90" height="5.50" rx="2.31" fill="#1c1111" fill-opacity="1.0" filter="url(#bl)"/>
<rect x="566.30" y="261.65" width="18.40" height="7.90" rx="2.60" fill="#1c1111" fill-opacity="1.0" filter="url(#bl)"/>
<rect x="566.30" y="284.75" width="18.40" height="5.50" rx="2.31" fill="#1c1111" fill-opacity="1.0" filter="url(#bl)"/>
<rect x="587.30" y="261.65" width="17.90" height="7.90" rx="2.60" fill="#1c1111" fill-opacity="1.0" filter="url(#bl)"/>
<rect x="587.30" y="284.75" width="17.90" height="5.50" rx="2.31" fill="#1c1111" fill-opacity="1.0" filter="url(#bl)"/>
<rect x="606.30" y="261.65" width="18.40" height="7.90" rx="2.60" fill="#1c1111" fill-opacity="1.0" filter="url(#bl)"/>
<rect x="606.30" y="284.75" width="18.40" height="5.50" rx="2.31" fill="#1c1111" fill-opacity="1.0" filter="url(#bl)"/>
<text x="497.40" y="225.60" font-size="10.8" text-anchor="middle" fill="#231f20" transform="rotate(-90 497.40 225.60)">IP:Flag</text>
<line x1="499.60" y1="207.00" x2="499.60" y2="246.30" stroke="#231f20" stroke-width="1.0" stroke-linecap="butt"/>
<text x="497.40" y="277.80" font-size="10.6" text-anchor="middle" fill="#231f20" transform="rotate(-90 497.40 277.80)">Input</text>
<line x1="499.60" y1="257.70" x2="499.60" y2="295.20" stroke="#231f20" stroke-width="1.0" stroke-linecap="butt"/>
<text x="629.00" y="217.00" font-size="8.8" text-anchor="start" fill="#231f20">kDa</text>
<line x1="627.50" y1="223.50" x2="632.00" y2="223.50" stroke="#231f20" stroke-width="0.9" stroke-linecap="butt"/>
<text x="632.60" y="226.90" font-size="9.6" text-anchor="start" fill="#231f20">70</text>
<line x1="627.50" y1="245.40" x2="632.00" y2="245.40" stroke="#231f20" stroke-width="0.9" stroke-linecap="butt"/>
<text x="632.60" y="248.80" font-size="9.6" text-anchor="start" fill="#231f20">70</text>
<line x1="627.50" y1="271.00" x2="632.00" y2="271.00" stroke="#231f20" stroke-width="0.9" stroke-linecap="butt"/>
<text x="632.60" y="274.40" font-size="9.6" text-anchor="start" fill="#231f20">70</text>
<line x1="627.50" y1="293.30" x2="632.00" y2="293.30" stroke="#231f20" stroke-width="0.9" stroke-linecap="butt"/>
<text x="632.60" y="296.70" font-size="9.6" text-anchor="start" fill="#231f20">35</text>
<text x="69.40" y="376.40" font-size="10" text-anchor="end" fill="#231f20">Flag-GCLC</text>
<text x="69.60" y="386.00" font-size="10" text-anchor="end" fill="#231f20">TBH</text>
<text x="78.50" y="376.00" font-size="10" text-anchor="middle" fill="#231f20">+</text>
<text x="78.50" y="386.00" font-size="10" text-anchor="middle" fill="#231f20">0</text>
<text x="98.80" y="376.00" font-size="10" text-anchor="middle" fill="#231f20">+</text>
<text x="98.80" y="386.00" font-size="10" text-anchor="middle" fill="#231f20">3</text>
<text x="120.50" y="376.00" font-size="10" text-anchor="middle" fill="#231f20">+</text>
<text x="120.50" y="386.00" font-size="10" text-anchor="middle" fill="#231f20">6</text>
<text x="139.80" y="376.00" font-size="10" text-anchor="middle" fill="#231f20">+</text>
<text x="139.80" y="386.00" font-size="10" text-anchor="middle" fill="#231f20">12</text>
<text x="156.60" y="386.00" font-size="10" text-anchor="start" fill="#231f20">(h)</text>
<rect x="69.70" y="387.90" width="82.60" height="15.80" fill="#efefef" stroke="#231f20" stroke-width="1.2"/>
<rect x="69.70" y="407.60" width="82.60" height="13.60" fill="#efefef" stroke="#231f20" stroke-width="1.2"/>
<rect x="69.70" y="427.60" width="82.60" height="15.60" fill="#efefef" stroke="#231f20" stroke-width="1.2"/>
<rect x="69.70" y="447.80" width="82.60" height="14.80" fill="#efefef" stroke="#231f20" stroke-width="1.2"/>
<text x="68.90" y="399.00" font-size="11.6" text-anchor="end" fill="#231f20">Ksu</text>
<text x="68.90" y="416.80" font-size="11.6" text-anchor="end" fill="#231f20">Flag</text>
<text x="68.90" y="440.00" font-size="11.6" text-anchor="end" fill="#231f20">Flag</text>
<text x="68.90" y="458.30" font-size="11.6" text-anchor="end" fill="#231f20">GAPDH</text>
<rect x="72.10" y="392.25" width="15.60" height="7.50" rx="2.60" fill="#1c1111" fill-opacity="1" filter="url(#bl)"/>
<rect x="91.30" y="393.65" width="17.90" height="4.70" rx="1.97" fill="#1c1111" fill-opacity="0.9" filter="url(#bl)"/>
<rect x="112.80" y="393.65" width="16.90" height="4.70" rx="1.97" fill="#1c1111" fill-opacity="0.9" filter="url(#bl)"/>
<rect x="133.00" y="394.05" width="16.70" height="3.90" rx="1.64" fill="#1c1111" fill-opacity="0.3" filter="url(#bl)"/>
<rect x="72.10" y="412.35" width="16.10" height="4.50" rx="1.89" fill="#1c1111" fill-opacity="1.0" filter="url(#bl)"/>
<rect x="72.10" y="432.50" width="16.10" height="7.40" rx="2.60" fill="#1c1111" fill-opacity="1.0" filter="url(#bl)"/>
<rect x="72.10" y="452.15" width="16.10" height="6.10" rx="2.56" fill="#1c1111" fill-opacity="1.0" filter="url(#bl)"/>
<rect x="91.30" y="412.35" width="18.70" height="4.50" rx="1.89" fill="#1c1111" fill-opacity="1.0" filter="url(#bl)"/>
<rect x="91.30" y="432.50" width="18.70" height="7.40" rx="2.60" fill="#1c1111" fill-opacity="1.0" filter="url(#bl)"/>
<rect x="91.30" y="452.15" width="18.70" height="6.10" rx="2.56" fill="#1c1111" fill-opacity="1.0" filter="url(#bl)"/>
<rect x="113.30" y="412.35" width="17.40" height="4.50" rx="1.89" fill="#1c1111" fill-opacity="1.0" filter="url(#bl)"/>
<rect x="113.30" y="432.50" width="17.40" height="7.40" rx="2.60" fill="#1c1111" fill-opacity="1.0" filter="url(#bl)"/>
<rect x="113.30" y="452.15" width="17.40" height="6.10" rx="2.56" fill="#1c1111" fill-opacity="1.0" filter="url(#bl)"/>
<rect x="133.30" y="412.35" width="17.40" height="4.50" rx="1.89" fill="#1c1111" fill-opacity="1.0" filter="url(#bl)"/>
<rect x="133.30" y="432.50" width="17.40" height="7.40" rx="2.60" fill="#1c1111" fill-opacity="1.0" filter="url(#bl)"/>
<rect x="133.30" y="452.15" width="17.40" height="6.10" rx="2.56" fill="#1c1111" fill-opacity="1.0" filter="url(#bl)"/>
<text x="24.60" y="401.50" font-size="10" text-anchor="middle" fill="#231f20" transform="rotate(-90 24.60 401.50)">IP:Flag</text>
<line x1="26.50" y1="382.20" x2="26.50" y2="421.60" stroke="#231f20" stroke-width="1.0" stroke-linecap="butt"/>
<text x="24.60" y="443.20" font-size="10" text-anchor="middle" fill="#231f20" transform="rotate(-90 24.60 443.20)">Input</text>
<line x1="26.50" y1="429.60" x2="26.50" y2="464.00" stroke="#231f20" stroke-width="1.0" stroke-linecap="butt"/>
<text x="155.00" y="394.00" font-size="8.8" text-anchor="start" fill="#231f20">kDa</text>
<line x1="153.00" y1="399.70" x2="157.00" y2="399.70" stroke="#231f20" stroke-width="0.9" stroke-linecap="butt"/>
<text x="158.60" y="403.10" font-size="9.6" text-anchor="start" fill="#231f20">70</text>
<line x1="153.00" y1="417.70" x2="157.00" y2="417.70" stroke="#231f20" stroke-width="0.9" stroke-linecap="butt"/>
<text x="158.60" y="421.10" font-size="9.6" text-anchor="start" fill="#231f20">70</text>
<line x1="153.00" y1="439.00" x2="157.00" y2="439.00" stroke="#231f20" stroke-width="0.9" stroke-linecap="butt"/>
<text x="158.60" y="442.40" font-size="9.6" text-anchor="start" fill="#231f20">70</text>
<line x1="153.00" y1="461.00" x2="157.00" y2="461.00" stroke="#231f20" stroke-width="0.9" stroke-linecap="butt"/>
<text x="158.60" y="464.40" font-size="9.6" text-anchor="start" fill="#231f20">35</text>
<line x1="252.60" y1="357.60" x2="252.60" y2="451.00" stroke="#231f20" stroke-width="1.2" stroke-linecap="butt"/>
<line x1="248.60" y1="451.00" x2="252.60" y2="451.00" stroke="#231f20" stroke-width="1.2" stroke-linecap="butt"/>
<text x="247.20" y="454.68" font-size="11.6" text-anchor="end" fill="#231f20">0</text>
<line x1="248.60" y1="432.32" x2="252.60" y2="432.32" stroke="#231f20" stroke-width="1.2" stroke-linecap="butt"/>
<text x="247.20" y="436.18" font-size="11.6" text-anchor="end" fill="#231f20">50</text>
<line x1="248.60" y1="413.64" x2="252.60" y2="413.64" stroke="#231f20" stroke-width="1.2" stroke-linecap="butt"/>
<text x="247.20" y="417.68" font-size="11.6" text-anchor="end" fill="#231f20">100</text>
<line x1="248.60" y1="394.96" x2="252.60" y2="394.96" stroke="#231f20" stroke-width="1.2" stroke-linecap="butt"/>
<text x="247.20" y="399.18" font-size="11.6" text-anchor="end" fill="#231f20">150</text>
<line x1="248.60" y1="376.28" x2="252.60" y2="376.28" stroke="#231f20" stroke-width="1.2" stroke-linecap="butt"/>
<text x="247.20" y="380.78" font-size="11.6" text-anchor="end" fill="#231f20">200</text>
<line x1="248.60" y1="357.60" x2="252.60" y2="357.60" stroke="#231f20" stroke-width="1.2" stroke-linecap="butt"/>
<text x="247.20" y="362.18" font-size="11.6" text-anchor="end" fill="#231f20">250</text>
<line x1="252.60" y1="451.00" x2="392.00" y2="451.00" stroke="#231f20" stroke-width="1.2" stroke-linecap="butt"/>
<line x1="267.80" y1="451.00" x2="267.80" y2="455.00" stroke="#231f20" stroke-width="1.2" stroke-linecap="butt"/>
<line x1="303.80" y1="451.00" x2="303.80" y2="455.00" stroke="#231f20" stroke-width="1.2" stroke-linecap="butt"/>
<line x1="339.90" y1="451.00" x2="339.90" y2="455.00" stroke="#231f20" stroke-width="1.2" stroke-linecap="butt"/>
<line x1="375.80" y1="451.00" x2="375.80" y2="455.00" stroke="#231f20" stroke-width="1.2" stroke-linecap="butt"/>
<text x="225.83" y="405.20" font-size="11.75" text-anchor="middle" fill="#231f20" transform="rotate(-90 225.83 405.20)">Relative total GSH (%)</text>
<text x="320.40" y="357.00" font-size="11.6" text-anchor="middle" fill="#231f20">ACHN</text>
<text x="274.80" y="463.00" font-size="11.6" text-anchor="end" fill="#231f20" transform="rotate(-45 274.80 463.00)">shNC</text>
<text x="310.80" y="463.00" font-size="11.6" text-anchor="end" fill="#231f20" transform="rotate(-45 310.80 463.00)">shGCLC</text>
<text x="343.90" y="462.00" font-size="11.6" text-anchor="end" fill="#231f20" transform="rotate(-45 343.90 462.00)">shGCLC+</text>
<text x="352.40" y="473.50" font-size="11.6" text-anchor="end" fill="#231f20" transform="rotate(-45 352.40 473.50)">Flag-GCLC WT</text>
<text x="379.80" y="462.00" font-size="11.6" text-anchor="end" fill="#231f20" transform="rotate(-45 379.80 462.00)">shGCLC+</text>
<text x="388.30" y="473.50" font-size="11.6" text-anchor="end" fill="#231f20" transform="rotate(-45 388.30 473.50)">Flag-GCLC 3KE</text>
<path d="M257.65,451.00 V414.86 H264.95 V451.00" fill="white" stroke="#3a55b4" stroke-width="1.7"/>
<path d="M270.65,451.00 V390.95 H278.35 V451.00" fill="white" stroke="#e3342c" stroke-width="1.7"/>
<path d="M293.65,451.00 V435.41 H300.95 V451.00" fill="white" stroke="#3a55b4" stroke-width="1.7"/>
<path d="M306.65,451.00 V427.19 H314.35 V451.00" fill="white" stroke="#e3342c" stroke-width="1.7"/>
<path d="M329.25,451.00 V411.87 H337.55 V451.00" fill="white" stroke="#3a55b4" stroke-width="1.7"/>
<path d="M342.65,451.00 V392.07 H350.55 V451.00" fill="white" stroke="#e3342c" stroke-width="1.7"/>
<path d="M365.25,451.00 V435.41 H373.55 V451.00" fill="white" stroke="#3a55b4" stroke-width="1.7"/>
<path d="M378.25,451.00 V426.82 H386.55 V451.00" fill="white" stroke="#e3342c" stroke-width="1.7"/>
<line x1="261.20" y1="410.65" x2="261.20" y2="417.38" stroke="#3a55b4" stroke-width="1.1" stroke-linecap="butt"/>
<line x1="259.70" y1="410.65" x2="262.70" y2="410.65" stroke="#3a55b4" stroke-width="1.1" stroke-linecap="butt"/>
<line x1="259.70" y1="417.38" x2="262.70" y2="417.38" stroke="#3a55b4" stroke-width="1.1" stroke-linecap="butt"/>
<circle cx="259.50" cy="417.38" r="1.9" fill="#3a55b4"/>
<circle cx="261.20" cy="409.90" r="1.9" fill="#3a55b4"/>
<circle cx="263.00" cy="414.76" r="1.9" fill="#3a55b4"/>
<line x1="274.40" y1="378.15" x2="274.40" y2="402.06" stroke="#e3342c" stroke-width="1.1" stroke-linecap="butt"/>
<line x1="272.90" y1="378.15" x2="275.90" y2="378.15" stroke="#e3342c" stroke-width="1.1" stroke-linecap="butt"/>
<line x1="272.90" y1="402.06" x2="275.90" y2="402.06" stroke="#e3342c" stroke-width="1.1" stroke-linecap="butt"/>
<rect x="272.50" y="376.25" width="3.80" height="3.80" fill="#e3342c"/>
<rect x="272.50" y="391.19" width="3.80" height="3.80" fill="#e3342c"/>
<rect x="272.50" y="397.54" width="3.80" height="3.80" fill="#e3342c"/>
<line x1="297.20" y1="431.57" x2="297.20" y2="437.55" stroke="#3a55b4" stroke-width="1.1" stroke-linecap="butt"/>
<line x1="295.70" y1="431.57" x2="298.70" y2="431.57" stroke="#3a55b4" stroke-width="1.1" stroke-linecap="butt"/>
<line x1="295.70" y1="437.55" x2="298.70" y2="437.55" stroke="#3a55b4" stroke-width="1.1" stroke-linecap="butt"/>
<circle cx="295.50" cy="436.80" r="1.9" fill="#3a55b4"/>
<circle cx="297.20" cy="430.83" r="1.9" fill="#3a55b4"/>
<circle cx="299.00" cy="435.31" r="1.9" fill="#3a55b4"/>
<line x1="310.40" y1="421.11" x2="310.40" y2="431.57" stroke="#e3342c" stroke-width="1.1" stroke-linecap="butt"/>
<line x1="308.90" y1="421.11" x2="311.90" y2="421.11" stroke="#e3342c" stroke-width="1.1" stroke-linecap="butt"/>
<line x1="308.90" y1="431.57" x2="311.90" y2="431.57" stroke="#e3342c" stroke-width="1.1" stroke-linecap="butt"/>
<rect x="308.50" y="419.96" width="3.80" height="3.80" fill="#e3342c"/>
<rect x="308.50" y="425.94" width="3.80" height="3.80" fill="#e3342c"/>
<rect x="308.50" y="428.18" width="3.80" height="3.80" fill="#e3342c"/>
<line x1="333.30" y1="404.30" x2="333.30" y2="417.75" stroke="#3a55b4" stroke-width="1.1" stroke-linecap="butt"/>
<line x1="331.80" y1="404.30" x2="334.80" y2="404.30" stroke="#3a55b4" stroke-width="1.1" stroke-linecap="butt"/>
<line x1="331.80" y1="417.75" x2="334.80" y2="417.75" stroke="#3a55b4" stroke-width="1.1" stroke-linecap="butt"/>
<circle cx="332.00" cy="417.38" r="1.9" fill="#3a55b4"/>
<circle cx="333.30" cy="408.04" r="1.9" fill="#3a55b4"/>
<circle cx="335.50" cy="404.30" r="1.9" fill="#3a55b4"/>
<line x1="346.50" y1="381.51" x2="346.50" y2="401.68" stroke="#e3342c" stroke-width="1.1" stroke-linecap="butt"/>
<line x1="345.00" y1="381.51" x2="348.00" y2="381.51" stroke="#e3342c" stroke-width="1.1" stroke-linecap="butt"/>
<line x1="345.00" y1="401.68" x2="348.00" y2="401.68" stroke="#e3342c" stroke-width="1.1" stroke-linecap="butt"/>
<rect x="344.60" y="380.36" width="3.80" height="3.80" fill="#e3342c"/>
<rect x="344.60" y="385.96" width="3.80" height="3.80" fill="#e3342c"/>
<rect x="344.60" y="400.16" width="3.80" height="3.80" fill="#e3342c"/>
<line x1="369.30" y1="431.57" x2="369.30" y2="437.55" stroke="#3a55b4" stroke-width="1.1" stroke-linecap="butt"/>
<line x1="367.80" y1="431.57" x2="370.80" y2="431.57" stroke="#3a55b4" stroke-width="1.1" stroke-linecap="butt"/>
<line x1="367.80" y1="437.55" x2="370.80" y2="437.55" stroke="#3a55b4" stroke-width="1.1" stroke-linecap="butt"/>
<circle cx="367.50" cy="436.80" r="1.9" fill="#3a55b4"/>
<circle cx="369.30" cy="431.20" r="1.9" fill="#3a55b4"/>
<circle cx="371.00" cy="435.31" r="1.9" fill="#3a55b4"/>
<line x1="382.30" y1="419.99" x2="382.30" y2="430.45" stroke="#e3342c" stroke-width="1.1" stroke-linecap="butt"/>
<line x1="380.80" y1="419.99" x2="383.80" y2="419.99" stroke="#e3342c" stroke-width="1.1" stroke-linecap="butt"/>
<line x1="380.80" y1="430.45" x2="383.80" y2="430.45" stroke="#e3342c" stroke-width="1.1" stroke-linecap="butt"/>
<rect x="379.10" y="426.68" width="3.80" height="3.80" fill="#e3342c"/>
<rect x="380.40" y="418.46" width="3.80" height="3.80" fill="#e3342c"/>
<rect x="382.10" y="424.07" width="3.80" height="3.80" fill="#e3342c"/>
<line x1="260.00" y1="373.00" x2="275.00" y2="373.00" stroke="#231f20" stroke-width="1.5" stroke-linecap="butt"/>
<polygon points="264.20,366.00 264.99,367.91 267.05,368.07 265.48,369.42 265.96,371.43 264.20,370.35 262.44,371.43 262.92,369.42 261.35,368.07 263.41,367.91" fill="#231f20"/>
<polygon points="270.80,366.00 271.59,367.91 273.65,368.07 272.08,369.42 272.56,371.43 270.80,370.35 269.04,371.43 269.52,369.42 267.95,368.07 270.01,367.91" fill="#231f20"/>
<line x1="296.40" y1="416.00" x2="310.40" y2="416.00" stroke="#231f20" stroke-width="1.5" stroke-linecap="butt"/>
<text x="303.40" y="413.00" font-size="12" text-anchor="middle" fill="#231f20">ns</text>
<line x1="331.40" y1="377.60" x2="346.40" y2="377.60" stroke="#231f20" stroke-width="1.5" stroke-linecap="butt"/>
<polygon points="335.60,370.60 336.39,372.51 338.45,372.67 336.88,374.02 337.36,376.03 335.60,374.95 333.84,376.03 334.32,374.02 332.75,372.67 334.81,372.51" fill="#231f20"/>
<polygon points="342.20,370.60 342.99,372.51 345.05,372.67 343.48,374.02 343.96,376.03 342.20,374.95 340.44,376.03 340.92,374.02 339.35,372.67 341.41,372.51" fill="#231f20"/>
<line x1="368.40" y1="413.60" x2="382.60" y2="413.60" stroke="#231f20" stroke-width="1.5" stroke-linecap="butt"/>
<text x="375.50" y="410.60" font-size="12" text-anchor="middle" fill="#231f20">ns</text>
<circle cx="363.60" cy="366.60" r="3.2" fill="#3a55b4"/>
<rect x="360.40" y="377.00" width="6.20" height="6.20" fill="#e3342c"/>
<text x="370.00" y="370.20" font-size="11.6" text-anchor="start" fill="#231f20">NC</text>
<text x="370.00" y="384.20" font-size="11.6" text-anchor="start" fill="#231f20">TBH</text>
<text x="0" y="0" font-size="9.6" text-anchor="end" fill="#231f20" transform="translate(494.80 380.80) scale(1.045 1)">shGCLC</text>
<text x="505.10" y="380.80" font-size="9.6" text-anchor="middle" fill="#231f20">-</text>
<text x="521.60" y="380.80" font-size="9.6" text-anchor="middle" fill="#231f20">-</text>
<text x="541.40" y="380.80" font-size="9.6" text-anchor="middle" fill="#231f20">+</text>
<text x="558.20" y="380.80" font-size="9.6" text-anchor="middle" fill="#231f20">+</text>
<text x="576.60" y="380.80" font-size="9.6" text-anchor="middle" fill="#231f20">+</text>
<text x="595.00" y="380.80" font-size="9.6" text-anchor="middle" fill="#231f20">+</text>
<text x="612.40" y="380.80" font-size="9.6" text-anchor="middle" fill="#231f20">+</text>
<text x="631.00" y="380.80" font-size="9.6" text-anchor="middle" fill="#231f20">+</text>
<text x="0" y="0" font-size="9.6" text-anchor="end" fill="#231f20" transform="translate(494.80 391.20) scale(1.045 1)">Flag-GCLC WT</text>
<text x="505.10" y="391.20" font-size="9.6" text-anchor="middle" fill="#231f20">-</text>
<text x="521.60" y="391.20" font-size="9.6" text-anchor="middle" fill="#231f20">-</text>
<text x="541.40" y="391.20" font-size="9.6" text-anchor="middle" fill="#231f20">-</text>
<text x="558.20" y="391.20" font-size="9.6" text-anchor="middle" fill="#231f20">-</text>
<text x="576.60" y="391.20" font-size="9.6" text-anchor="middle" fill="#231f20">+</text>
<text x="595.00" y="391.20" font-size="9.6" text-anchor="middle" fill="#231f20">+</text>
<text x="612.40" y="391.20" font-size="9.6" text-anchor="middle" fill="#231f20">-</text>
<text x="631.00" y="391.20" font-size="9.6" text-anchor="middle" fill="#231f20">-</text>
<text x="0" y="0" font-size="9.6" text-anchor="end" fill="#231f20" transform="translate(494.80 401.70) scale(1.045 1)">Flag-GCLC 3KE</text>
<text x="505.10" y="401.70" font-size="9.6" text-anchor="middle" fill="#231f20">-</text>
<text x="521.60" y="401.70" font-size="9.6" text-anchor="middle" fill="#231f20">-</text>
<text x="541.40" y="401.70" font-size="9.6" text-anchor="middle" fill="#231f20">-</text>
<text x="558.20" y="401.70" font-size="9.6" text-anchor="middle" fill="#231f20">-</text>
<text x="576.60" y="401.70" font-size="9.6" text-anchor="middle" fill="#231f20">-</text>
<text x="595.00" y="401.70" font-size="9.6" text-anchor="middle" fill="#231f20">-</text>
<text x="612.40" y="401.70" font-size="9.6" text-anchor="middle" fill="#231f20">+</text>
<text x="631.00" y="401.70" font-size="9.6" text-anchor="middle" fill="#231f20">+</text>
<text x="0" y="0" font-size="9.6" text-anchor="end" fill="#231f20" transform="translate(494.80 411.00) scale(1.045 1)">TBH</text>
<text x="505.10" y="411.00" font-size="9.6" text-anchor="middle" fill="#231f20">-</text>
<text x="521.60" y="411.00" font-size="9.6" text-anchor="middle" fill="#231f20">+</text>
<text x="541.40" y="411.00" font-size="9.6" text-anchor="middle" fill="#231f20">-</text>
<text x="558.20" y="411.00" font-size="9.6" text-anchor="middle" fill="#231f20">+</text>
<text x="576.60" y="411.00" font-size="9.6" text-anchor="middle" fill="#231f20">-</text>
<text x="595.00" y="411.00" font-size="9.6" text-anchor="middle" fill="#231f20">+</text>
<text x="612.40" y="411.00" font-size="9.6" text-anchor="middle" fill="#231f20">-</text>
<text x="631.00" y="411.00" font-size="9.6" text-anchor="middle" fill="#231f20">+</text>
<rect x="495.70" y="413.80" width="144.90" height="15.00" fill="#f9f9f9" stroke="#231f20" stroke-width="1.2"/>
<rect x="495.70" y="433.20" width="144.90" height="11.90" fill="#efefef" stroke="#231f20" stroke-width="1.2"/>
<rect x="495.70" y="451.10" width="144.90" height="12.80" fill="#efefef" stroke="#231f20" stroke-width="1.2"/>
<text x="492.50" y="423.20" font-size="11.6" text-anchor="end" fill="#231f20">Flag</text>
<text x="492.50" y="442.70" font-size="11.6" text-anchor="end" fill="#231f20">GCLC</text>
<text x="492.50" y="460.80" font-size="11.6" text-anchor="end" fill="#231f20">GAPDH</text>
<rect x="569.60" y="419.65" width="16.10" height="4.30" rx="1.81" fill="#1c1111" fill-opacity="1.0" filter="url(#bl)"/>
<rect x="588.00" y="419.65" width="16.20" height="4.30" rx="1.81" fill="#1c1111" fill-opacity="1.0" filter="url(#bl)"/>
<rect x="605.60" y="419.65" width="16.10" height="4.30" rx="1.81" fill="#1c1111" fill-opacity="1.0" filter="url(#bl)"/>
<rect x="622.90" y="419.65" width="16.80" height="4.30" rx="1.81" fill="#1c1111" fill-opacity="1.0" filter="url(#bl)"/>
<polygon points="498.40,437.95 500.40,435.95 505.30,437.05 510.20,435.95 512.20,437.95 512.20,439.65 510.20,441.65 505.30,440.55 500.40,441.65 498.40,439.65" fill="#1c1111" fill-opacity="1.0" filter="url(#bl)"/>
<polygon points="515.40,437.95 517.40,435.95 522.30,437.05 527.20,435.95 529.20,437.95 529.20,439.65 527.20,441.65 522.30,440.55 517.40,441.65 515.40,439.65" fill="#1c1111" fill-opacity="1.0" filter="url(#bl)"/>
<rect x="533.30" y="437.10" width="15.10" height="3.40" rx="1.43" fill="#1c1111" fill-opacity="0.3" filter="url(#bl)"/>
<rect x="552.00" y="437.10" width="14.00" height="3.40" rx="1.43" fill="#1c1111" fill-opacity="0.3" filter="url(#bl)"/>
<rect x="568.80" y="435.75" width="16.90" height="6.10" rx="2.56" fill="#1c1111" fill-opacity="1" filter="url(#bl)"/>
<rect x="588.00" y="435.75" width="16.20" height="6.10" rx="2.56" fill="#1c1111" fill-opacity="1" filter="url(#bl)"/>
<rect x="605.60" y="435.75" width="16.10" height="6.10" rx="2.56" fill="#1c1111" fill-opacity="1" filter="url(#bl)"/>
<rect x="622.90" y="435.75" width="16.80" height="6.10" rx="2.56" fill="#1c1111" fill-opacity="1" filter="url(#bl)"/>
<rect x="497.80" y="453.35" width="17.90" height="7.90" rx="2.60" fill="#1c1111" fill-opacity="1.0" filter="url(#bl)"/>
<rect x="513.80" y="453.35" width="17.90" height="7.90" rx="2.60" fill="#1c1111" fill-opacity="1.0" filter="url(#bl)"/>
<rect x="530.30" y="453.35" width="20.40" height="7.90" rx="2.60" fill="#1c1111" fill-opacity="1.0" filter="url(#bl)"/>
<rect x="549.30" y="453.35" width="18.90" height="7.90" rx="2.60" fill="#1c1111" fill-opacity="1.0" filter="url(#bl)"/>
<rect x="567.30" y="453.35" width="18.90" height="7.90" rx="2.60" fill="#1c1111" fill-opacity="1.0" filter="url(#bl)"/>
<rect x="586.30" y="453.35" width="18.40" height="7.90" rx="2.60" fill="#1c1111" fill-opacity="1.0" filter="url(#bl)"/>
<rect x="604.30" y="453.35" width="18.40" height="7.90" rx="2.60" fill="#1c1111" fill-opacity="1.0" filter="url(#bl)"/>
<rect x="622.30" y="453.35" width="18.40" height="7.90" rx="2.60" fill="#1c1111" fill-opacity="1.0" filter="url(#bl)"/>
<text x="642.70" y="417.60" font-size="8.8" text-anchor="start" fill="#231f20">kDa</text>
<line x1="641.20" y1="423.00" x2="647.00" y2="423.00" stroke="#231f20" stroke-width="0.9" stroke-linecap="butt"/>
<text x="648.60" y="426.40" font-size="9.6" text-anchor="start" fill="#231f20">70</text>
<line x1="641.20" y1="442.10" x2="647.00" y2="442.10" stroke="#231f20" stroke-width="0.9" stroke-linecap="butt"/>
<text x="648.60" y="445.50" font-size="9.6" text-anchor="start" fill="#231f20">70</text>
<line x1="641.20" y1="461.60" x2="647.00" y2="461.60" stroke="#231f20" stroke-width="0.9" stroke-linecap="butt"/>
<text x="648.60" y="465.00" font-size="9.6" text-anchor="start" fill="#231f20">35</text>
<line x1="61.20" y1="537.00" x2="61.20" y2="650.10" stroke="#231f20" stroke-width="1.2" stroke-linecap="butt"/>
<line x1="57.20" y1="650.10" x2="61.20" y2="650.10" stroke="#231f20" stroke-width="1.2" stroke-linecap="butt"/>
<text x="55.50" y="654.28" font-size="11.6" text-anchor="end" fill="#231f20">0</text>
<line x1="57.20" y1="621.83" x2="61.20" y2="621.83" stroke="#231f20" stroke-width="1.2" stroke-linecap="butt"/>
<text x="55.50" y="626.00" font-size="11.6" text-anchor="end" fill="#231f20">50</text>
<line x1="57.20" y1="593.55" x2="61.20" y2="593.55" stroke="#231f20" stroke-width="1.2" stroke-linecap="butt"/>
<text x="55.50" y="597.73" font-size="11.6" text-anchor="end" fill="#231f20">100</text>
<line x1="57.20" y1="565.27" x2="61.20" y2="565.27" stroke="#231f20" stroke-width="1.2" stroke-linecap="butt"/>
<text x="55.50" y="569.45" font-size="11.6" text-anchor="end" fill="#231f20">150</text>
<line x1="57.20" y1="537.00" x2="61.20" y2="537.00" stroke="#231f20" stroke-width="1.2" stroke-linecap="butt"/>
<text x="55.50" y="541.18" font-size="11.6" text-anchor="end" fill="#231f20">200</text>
<line x1="61.20" y1="650.10" x2="179.30" y2="650.10" stroke="#231f20" stroke-width="1.2" stroke-linecap="butt"/>
<line x1="84.80" y1="650.10" x2="84.80" y2="654.10" stroke="#231f20" stroke-width="1.2" stroke-linecap="butt"/>
<line x1="120.40" y1="650.10" x2="120.40" y2="654.10" stroke="#231f20" stroke-width="1.2" stroke-linecap="butt"/>
<line x1="156.00" y1="650.10" x2="156.00" y2="654.10" stroke="#231f20" stroke-width="1.2" stroke-linecap="butt"/>
<text x="84.80" y="664.60" font-size="11.6" text-anchor="middle" fill="#231f20">0</text>
<text x="120.40" y="664.60" font-size="11.6" text-anchor="middle" fill="#231f20">3</text>
<text x="156.00" y="664.60" font-size="11.6" text-anchor="middle" fill="#231f20">16</text>
<text x="114.50" y="676.60" font-size="11.6" text-anchor="middle" fill="#231f20">TBH treatment (h)</text>
<text x="34.02" y="587.30" font-size="11.45" text-anchor="middle" fill="#231f20" transform="rotate(-90 34.02 587.30)">Relative MDA level (%)</text>
<text x="112.40" y="539.40" font-size="11.6" text-anchor="middle" fill="#231f20">liver</text>
<polyline points="84.80,593.40 120.40,570.70 156.00,558.40" fill="none" stroke="#231f20" stroke-width="1.3" stroke-linejoin="miter"/>
<line x1="84.80" y1="588.30" x2="84.80" y2="598.30" stroke="#231f20" stroke-width="1.0" stroke-linecap="butt"/>
<line x1="83.30" y1="588.30" x2="86.30" y2="588.30" stroke="#231f20" stroke-width="1.0" stroke-linecap="butt"/>
<line x1="83.30" y1="598.30" x2="86.30" y2="598.30" stroke="#231f20" stroke-width="1.0" stroke-linecap="butt"/>
<circle cx="84.80" cy="593.40" r="2.2" fill="#231f20"/>
<line x1="120.40" y1="564.70" x2="120.40" y2="576.40" stroke="#231f20" stroke-width="1.0" stroke-linecap="butt"/>
<line x1="118.90" y1="564.70" x2="121.90" y2="564.70" stroke="#231f20" stroke-width="1.0" stroke-linecap="butt"/>
<line x1="118.90" y1="576.40" x2="121.90" y2="576.40" stroke="#231f20" stroke-width="1.0" stroke-linecap="butt"/>
<rect x="118.20" y="568.50" width="4.40" height="4.40" fill="#231f20"/>
<line x1="156.00" y1="552.20" x2="156.00" y2="564.10" stroke="#231f20" stroke-width="1.0" stroke-linecap="butt"/>
<line x1="154.50" y1="552.20" x2="157.50" y2="552.20" stroke="#231f20" stroke-width="1.0" stroke-linecap="butt"/>
<line x1="154.50" y1="564.10" x2="157.50" y2="564.10" stroke="#231f20" stroke-width="1.0" stroke-linecap="butt"/>
<polygon points="156.00,555.76 158.42,560.16 153.58,560.16" fill="#231f20"/>
<text x="271.30" y="564.00" font-size="10" text-anchor="end" fill="#231f20">TBH</text>
<text x="285.30" y="564.00" font-size="10" text-anchor="middle" fill="#231f20">-</text>
<text x="302.80" y="564.00" font-size="10" text-anchor="middle" fill="#231f20">-</text>
<text x="323.30" y="564.00" font-size="10" text-anchor="middle" fill="#231f20">-</text>
<text x="343.70" y="564.00" font-size="10" text-anchor="middle" fill="#231f20">+</text>
<text x="362.40" y="564.00" font-size="10" text-anchor="middle" fill="#231f20">+</text>
<text x="383.70" y="564.00" font-size="10" text-anchor="middle" fill="#231f20">+</text>
<rect x="272.00" y="568.40" width="123.00" height="11.60" fill="#d9d9d9" stroke="#231f20" stroke-width="1.2"/>
<rect x="272.00" y="584.80" width="123.00" height="20.80" fill="#bcbcbc" stroke="#231f20" stroke-width="1.2"/>
<rect x="272.00" y="611.80" width="123.00" height="15.00" fill="#e6e6e6" stroke="#231f20" stroke-width="1.2"/>
<rect x="272.00" y="631.50" width="123.00" height="15.70" fill="#efefef" stroke="#231f20" stroke-width="1.2"/>
<text x="270.60" y="577.30" font-size="11.6" text-anchor="end" fill="#231f20">Ksu</text>
<text x="270.60" y="598.80" font-size="11.6" text-anchor="end" fill="#231f20">GCLC</text>
<text x="270.60" y="624.50" font-size="11.6" text-anchor="end" fill="#231f20">GCLC</text>
<text x="270.60" y="647.60" font-size="11.6" text-anchor="end" fill="#231f20">GAPDH</text>
<rect x="274.60" y="572.75" width="17.20" height="4.30" rx="1.81" fill="#1c1111" fill-opacity="1" filter="url(#bl)"/>
<rect x="295.30" y="572.75" width="16.20" height="4.30" rx="1.81" fill="#1c1111" fill-opacity="1" filter="url(#bl)"/>
<rect x="314.50" y="572.75" width="16.20" height="4.30" rx="1.81" fill="#1c1111" fill-opacity="1" filter="url(#bl)"/>
<rect x="335.70" y="573.15" width="14.90" height="3.50" rx="1.47" fill="#1c1111" fill-opacity="0.55" filter="url(#bl)"/>
<rect x="355.00" y="572.85" width="15.80" height="4.10" rx="1.72" fill="#1c1111" fill-opacity="0.95" filter="url(#bl)"/>
<rect x="375.30" y="573.05" width="16.70" height="3.70" rx="1.55" fill="#1c1111" fill-opacity="0.6" filter="url(#bl)"/>
<polygon points="273.20,592.05 274.70,590.55 281.50,593.35 288.30,590.55 289.80,592.05 289.80,598.55 288.30,600.05 281.50,597.25 274.70,600.05 273.20,598.55" fill="#1c1111" fill-opacity="1.0" filter="url(#bl)"/>
<polygon points="293.40,592.05 294.90,590.55 301.70,591.85 308.50,590.55 310.00,592.05 310.00,598.55 308.50,600.05 301.70,598.75 294.90,600.05 293.40,598.55" fill="#1c1111" fill-opacity="1.0" filter="url(#bl)"/>
<polygon points="313.70,592.05 315.20,590.55 322.15,593.60 329.10,590.55 330.60,592.05 330.60,598.55 329.10,600.05 322.15,597.00 315.20,600.05 313.70,598.55" fill="#1c1111" fill-opacity="1.0" filter="url(#bl)"/>
<polygon points="334.90,592.05 336.40,590.55 343.20,591.60 350.00,590.55 351.50,592.05 351.50,598.55 350.00,600.05 343.20,599.00 336.40,600.05 334.90,598.55" fill="#1c1111" fill-opacity="1.0" filter="url(#bl)"/>
<polygon points="355.10,592.05 356.60,590.55 363.85,591.85 371.10,590.55 372.60,592.05 372.60,598.55 371.10,600.05 363.85,598.75 356.60,600.05 355.10,598.55" fill="#1c1111" fill-opacity="1.0" filter="url(#bl)"/>
<polygon points="376.30,592.05 377.80,590.55 385.10,593.60 392.40,590.55 393.90,592.05 393.90,598.55 392.40,600.05 385.10,597.00 377.80,600.05 376.30,598.55" fill="#1c1111" fill-opacity="1.0" filter="url(#bl)"/>
<rect x="274.30" y="617.85" width="17.40" height="5.10" rx="2.14" fill="#1c1111" fill-opacity="1.0" filter="url(#bl)"/>
<rect x="295.30" y="617.85" width="16.40" height="5.10" rx="2.14" fill="#1c1111" fill-opacity="1.0" filter="url(#bl)"/>
<rect x="315.30" y="617.85" width="15.40" height="5.10" rx="2.14" fill="#1c1111" fill-opacity="1.0" filter="url(#bl)"/>
<rect x="335.30" y="617.85" width="15.40" height="5.10" rx="2.14" fill="#1c1111" fill-opacity="1.0" filter="url(#bl)"/>
<rect x="355.30" y="617.85" width="16.40" height="5.10" rx="2.14" fill="#1c1111" fill-opacity="1.0" filter="url(#bl)"/>
<rect x="375.30" y="617.85" width="17.40" height="5.10" rx="2.14" fill="#1c1111" fill-opacity="1.0" filter="url(#bl)"/>
<rect x="277.30" y="637.45" width="15.40" height="3.70" rx="1.55" fill="#1c1111" fill-opacity="1.0" filter="url(#bl)"/>
<rect x="293.30" y="635.85" width="17.40" height="6.90" rx="2.60" fill="#1c1111" fill-opacity="1.0" filter="url(#bl)"/>
<rect x="314.30" y="636.35" width="15.40" height="5.90" rx="2.48" fill="#1c1111" fill-opacity="1.0" filter="url(#bl)"/>
<rect x="332.30" y="635.35" width="19.40" height="7.90" rx="2.60" fill="#1c1111" fill-opacity="1.0" filter="url(#bl)"/>
<rect x="351.30" y="635.10" width="22.40" height="8.40" rx="2.60" fill="#1c1111" fill-opacity="1.0" filter="url(#bl)"/>
<rect x="374.30" y="636.85" width="18.40" height="4.90" rx="2.06" fill="#1c1111" fill-opacity="1.0" filter="url(#bl)"/>
<text x="222.60" y="583.70" font-size="10" text-anchor="middle" fill="#231f20" transform="rotate(-90 222.60 583.70)">IP:GCLC</text>
<line x1="225.20" y1="564.00" x2="225.20" y2="603.40" stroke="#231f20" stroke-width="1.0" stroke-linecap="butt"/>
<text x="222.60" y="632.60" font-size="10" text-anchor="middle" fill="#231f20" transform="rotate(-90 222.60 632.60)">Input</text>
<line x1="225.20" y1="612.80" x2="225.20" y2="653.00" stroke="#231f20" stroke-width="1.0" stroke-linecap="butt"/>
<text x="396.90" y="568.00" font-size="8.8" text-anchor="start" fill="#231f20">kDa</text>
<line x1="395.70" y1="578.00" x2="400.00" y2="578.00" stroke="#231f20" stroke-width="0.9" stroke-linecap="butt"/>
<text x="401.00" y="581.40" font-size="9.6" text-anchor="start" fill="#231f20">70</text>
<line x1="395.70" y1="600.50" x2="400.00" y2="600.50" stroke="#231f20" stroke-width="0.9" stroke-linecap="butt"/>
<text x="401.00" y="603.90" font-size="9.6" text-anchor="start" fill="#231f20">70</text>
<line x1="395.70" y1="622.40" x2="400.00" y2="622.40" stroke="#231f20" stroke-width="0.9" stroke-linecap="butt"/>
<text x="401.00" y="625.80" font-size="9.6" text-anchor="start" fill="#231f20">70</text>
<line x1="395.70" y1="644.90" x2="400.00" y2="644.90" stroke="#231f20" stroke-width="0.9" stroke-linecap="butt"/>
<text x="401.00" y="648.30" font-size="9.6" text-anchor="start" fill="#231f20">35</text>
<line x1="515.30" y1="541.50" x2="515.30" y2="654.70" stroke="#231f20" stroke-width="1.2" stroke-linecap="butt"/>
<line x1="511.30" y1="654.70" x2="515.30" y2="654.70" stroke="#231f20" stroke-width="1.2" stroke-linecap="butt"/>
<text x="510.00" y="659.08" font-size="10.5" text-anchor="end" fill="#231f20">0</text>
<line x1="511.30" y1="616.97" x2="515.30" y2="616.97" stroke="#231f20" stroke-width="1.2" stroke-linecap="butt"/>
<text x="510.00" y="621.28" font-size="10.5" text-anchor="end" fill="#231f20">50</text>
<line x1="511.30" y1="579.23" x2="515.30" y2="579.23" stroke="#231f20" stroke-width="1.2" stroke-linecap="butt"/>
<text x="510.00" y="583.18" font-size="10.5" text-anchor="end" fill="#231f20">100</text>
<line x1="511.30" y1="541.50" x2="515.30" y2="541.50" stroke="#231f20" stroke-width="1.2" stroke-linecap="butt"/>
<text x="510.00" y="545.18" font-size="10.5" text-anchor="end" fill="#231f20">150</text>
<line x1="515.30" y1="654.70" x2="628.80" y2="654.70" stroke="#231f20" stroke-width="1.2" stroke-linecap="butt"/>
<line x1="537.80" y1="654.70" x2="537.80" y2="658.70" stroke="#231f20" stroke-width="1.2" stroke-linecap="butt"/>
<line x1="571.90" y1="654.70" x2="571.90" y2="658.70" stroke="#231f20" stroke-width="1.2" stroke-linecap="butt"/>
<line x1="605.70" y1="654.70" x2="605.70" y2="658.70" stroke="#231f20" stroke-width="1.2" stroke-linecap="butt"/>
<text x="537.80" y="669.00" font-size="10.8" text-anchor="middle" fill="#231f20">0</text>
<text x="571.90" y="669.00" font-size="10.8" text-anchor="middle" fill="#231f20">3</text>
<text x="605.70" y="669.00" font-size="10.8" text-anchor="middle" fill="#231f20">16</text>
<text x="567.20" y="681.60" font-size="11.1" text-anchor="middle" fill="#231f20">TBH treatment (h)</text>
<text x="487.43" y="592.80" font-size="11.75" text-anchor="middle" fill="#231f20" transform="rotate(-90 487.43 592.80)">Relative total GSH (%)</text>
<text x="566.50" y="543.30" font-size="11.6" text-anchor="middle" fill="#231f20">liver</text>
<polyline points="537.80,579.00 571.90,600.80 605.70,559.50" fill="none" stroke="#231f20" stroke-width="1.3" stroke-linejoin="miter"/>
<line x1="537.80" y1="574.80" x2="537.80" y2="582.90" stroke="#231f20" stroke-width="1.0" stroke-linecap="butt"/>
<line x1="536.30" y1="574.80" x2="539.30" y2="574.80" stroke="#231f20" stroke-width="1.0" stroke-linecap="butt"/>
<line x1="536.30" y1="582.90" x2="539.30" y2="582.90" stroke="#231f20" stroke-width="1.0" stroke-linecap="butt"/>
<circle cx="537.80" cy="579.00" r="2.2" fill="#231f20"/>
<line x1="571.90" y1="599.00" x2="571.90" y2="602.60" stroke="#231f20" stroke-width="1.0" stroke-linecap="butt"/>
<line x1="570.40" y1="599.00" x2="573.40" y2="599.00" stroke="#231f20" stroke-width="1.0" stroke-linecap="butt"/>
<line x1="570.40" y1="602.60" x2="573.40" y2="602.60" stroke="#231f20" stroke-width="1.0" stroke-linecap="butt"/>
<rect x="569.70" y="598.60" width="4.40" height="4.40" fill="#231f20"/>
<line x1="605.70" y1="552.30" x2="605.70" y2="565.50" stroke="#231f20" stroke-width="1.0" stroke-linecap="butt"/>
<line x1="604.20" y1="552.30" x2="607.20" y2="552.30" stroke="#231f20" stroke-width="1.0" stroke-linecap="butt"/>
<line x1="604.20" y1="565.50" x2="607.20" y2="565.50" stroke="#231f20" stroke-width="1.0" stroke-linecap="butt"/>
<polygon points="605.70,556.86 608.12,561.26 603.28,561.26" fill="#231f20"/>
</svg>
</body></html>
